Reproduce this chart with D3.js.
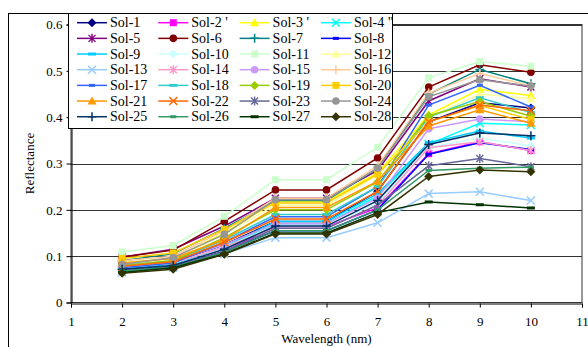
<!DOCTYPE html>
<html>
<head>
<meta charset="utf-8">
<script src="https://cdn.jsdelivr.net/npm/d3@7"></script>
<style>
  body { margin: 0; background: #fff; }
  svg, svg text { font-family: "Liberation Serif", "Times New Roman", Times, "DejaVu Serif", serif; }
</style>
</head>
<body>
<div id="chart"></div>
<script>
// wavelengths (x) and series
const wavelengths = [2, 3, 4, 5, 6, 7, 8, 9, 10];
const seriesNames = ["Sol-1", "Sol-2 '", "Sol-3 '", "Sol-4 \"", "Sol-5", "Sol-6", "Sol-7", "Sol-8",
  "Sol-9", "Sol-10", "Sol-11", "Sol-12", "Sol-13", "Sol-14", "Sol-15", "Sol-16",
  "Sol-17", "Sol-18", "Sol-19", "Sol-20", "Sol-21", "Sol-22", "Sol-23", "Sol-24",
  "Sol-25", "Sol-26", "Sol-27", "Sol-28"];
const reflectance = [
  [0.075, 0.085, 0.125, 0.175, 0.175, 0.240, 0.390, 0.431, 0.420], // Sol-1
  [0.070, 0.078, 0.110, 0.164, 0.164, 0.204, 0.321, 0.347, 0.328], // Sol-2
  [0.085, 0.095, 0.150, 0.218, 0.218, 0.280, 0.405, 0.460, 0.447], // Sol-3
  [0.075, 0.085, 0.120, 0.170, 0.170, 0.230, 0.342, 0.387, 0.383], // Sol-4
  [0.098, 0.115, 0.165, 0.225, 0.225, 0.285, 0.435, 0.483, 0.465], // Sol-5
  [0.098, 0.113, 0.175, 0.243, 0.243, 0.312, 0.465, 0.513, 0.497], // Sol-6
  [0.090, 0.105, 0.160, 0.220, 0.220, 0.290, 0.450, 0.503, 0.472], // Sol-7
  [0.070, 0.078, 0.110, 0.155, 0.155, 0.200, 0.320, 0.345, 0.330], // Sol-8
  [0.073, 0.083, 0.120, 0.175, 0.175, 0.235, 0.345, 0.370, 0.355], // Sol-9
  [0.075, 0.085, 0.120, 0.165, 0.165, 0.215, 0.335, 0.355, 0.338], // Sol-10
  [0.109, 0.123, 0.186, 0.265, 0.265, 0.335, 0.485, 0.520, 0.510], // Sol-11
  [0.083, 0.093, 0.148, 0.210, 0.210, 0.275, 0.400, 0.450, 0.440], // Sol-12
  [0.065, 0.075, 0.105, 0.140, 0.140, 0.172, 0.235, 0.239, 0.220], // Sol-13
  [0.077, 0.085, 0.120, 0.160, 0.160, 0.210, 0.334, 0.347, 0.328], // Sol-14
  [0.078, 0.088, 0.125, 0.170, 0.170, 0.225, 0.375, 0.396, 0.390], // Sol-15
  [0.090, 0.100, 0.155, 0.225, 0.225, 0.295, 0.452, 0.494, 0.468], // Sol-16
  [0.075, 0.085, 0.130, 0.185, 0.185, 0.250, 0.426, 0.469, 0.422], // Sol-17
  [0.080, 0.090, 0.135, 0.190, 0.190, 0.250, 0.400, 0.442, 0.410], // Sol-18
  [0.080, 0.090, 0.140, 0.200, 0.200, 0.260, 0.403, 0.434, 0.402], // Sol-19
  [0.095, 0.107, 0.158, 0.215, 0.215, 0.277, 0.390, 0.425, 0.395], // Sol-20
  [0.085, 0.095, 0.136, 0.205, 0.205, 0.262, 0.381, 0.416, 0.387], // Sol-21
  [0.078, 0.088, 0.130, 0.180, 0.180, 0.240, 0.390, 0.426, 0.414], // Sol-22
  [0.070, 0.078, 0.110, 0.160, 0.160, 0.210, 0.295, 0.311, 0.293], // Sol-23
  [0.082, 0.097, 0.147, 0.222, 0.222, 0.290, 0.444, 0.481, 0.467], // Sol-24
  [0.072, 0.080, 0.115, 0.165, 0.165, 0.220, 0.341, 0.366, 0.360], // Sol-25
  [0.068, 0.076, 0.108, 0.155, 0.155, 0.200, 0.285, 0.290, 0.292], // Sol-26
  [0.065, 0.075, 0.105, 0.150, 0.150, 0.194, 0.217, 0.211, 0.204], // Sol-27
  [0.063, 0.072, 0.104, 0.148, 0.148, 0.190, 0.272, 0.286, 0.282]  // Sol-28
];
const xTicks = [1, 2, 3, 4, 5, 6, 7, 8, 9, 10, 11];
const yTicks = [0, 0.1, 0.2, 0.3, 0.4, 0.5, 0.6];

// excel 2003 style palette and marker cycle
const colors = ["#000080", "#FF00FF", "#FFFF00", "#00FFFF", "#800080", "#800000", "#008080", "#0000FF",
  "#00CCFF", "#CCFFFF", "#CCFFCC", "#FFFF99", "#99CCFF", "#FF99CC", "#CC99FF", "#FFCC99",
  "#3366FF", "#33CCCC", "#99CC00", "#FFCC00", "#FF9900", "#FF6600", "#666699", "#969696",
  "#003366", "#339966", "#003300", "#333300"];
const markerCycle = ["diamond", "square", "triangle", "x", "star", "circle", "plus", "dash", "dash2"];

const FONT = '"Liberation Serif", "Times New Roman", Times, "DejaVu Serif", serif';
const W = 588, H = 347;
const margin = { left: 71, right: 6, top: 24, bottom: 44 };

const svg = d3.select('#chart').append('svg')
  .attr('width', W)
  .attr('height', H)
  .attr('font-family', FONT);

// outer chart border
svg.append('rect')
  .attr('x', 8.5).attr('y', 13.5)
  .attr('width', 700).attr('height', 500)
  .attr('fill', '#fff').attr('stroke', '#000');

const x = d3.scaleLinear().domain([1, 11]).range([margin.left, W - margin.right]);
const y = d3.scaleLinear().domain([0, 0.6]).range([H - margin.bottom - 0.5, margin.top + 0.5]);

// plot border
svg.append('rect')
  .attr('x', x(1)).attr('y', y(0.6))
  .attr('width', x(11) - x(1)).attr('height', y(0) - y(0.6))
  .attr('fill', 'none').attr('stroke', '#333');

// gridlines
svg.append('g')
  .selectAll('line')
  .data(yTicks.slice(1))
  .enter().append('line')
  .attr('x1', x(1)).attr('x2', x(11))
  .attr('y1', d => Math.round(y(d)) + 0.5)
  .attr('y2', d => Math.round(y(d)) + 0.5)
  .attr('stroke', '#333');

// axes
const yAxis = svg.append('g')
  .attr('transform', `translate(${x(1) + 0.5},0)`)
  .call(d3.axisLeft(y).tickValues(yTicks).tickSize(5).tickPadding(4).tickFormat(d3.format('')));
const xAxis = svg.append('g')
  .attr('transform', `translate(0,${Math.round(y(0)) + 0.5})`)
  .call(d3.axisBottom(x).tickValues(xTicks).tickSize(4).tickPadding(9).tickFormat(d3.format('d')));

[yAxis, xAxis].forEach(a => {
  a.attr('font-family', FONT);
  a.select('.domain').attr('stroke', '#000');
  a.selectAll('.tick line').attr('stroke', '#000');
  a.selectAll('.tick text')
    .attr('font-size', '13px')
    .attr('fill', '#000');
});

svg.append('text')
  .attr('transform', `translate(34,${(y(0) + y(0.6)) / 2}) rotate(-90)`)
  .attr('text-anchor', 'middle')
  .attr('font-size', '13px')
  .text('Reflectance');

svg.append('text')
  .attr('x', (x(1) + x(11)) / 2)
  .attr('y', 343)
  .attr('text-anchor', 'middle')
  .attr('font-size', '13px')
  .text('Wavelength (nm)');

function drawMarker(g, type, color, cx, cy) {
  const m = g.append('g').attr('transform', `translate(${cx},${cy})`);
  if (type === 'diamond') {
    m.append('path').attr('d', 'M0,-4.5L4.5,0L0,4.5L-4.5,0Z').attr('fill', color);
  } else if (type === 'square') {
    m.append('rect').attr('x', -3.5).attr('y', -3.5).attr('width', 7).attr('height', 7).attr('fill', color);
  } else if (type === 'triangle') {
    m.append('path').attr('d', 'M0,-4.5L4.5,3.5L-4.5,3.5Z').attr('fill', color);
  } else if (type === 'x') {
    m.append('path').attr('d', 'M-4,-4L4,4M-4,4L4,-4').attr('stroke', color).attr('stroke-width', 1.5);
  } else if (type === 'star') {
    m.append('path').attr('d', 'M-3.5,-3.5L3.5,3.5M-3.5,3.5L3.5,-3.5M0,-4.5V4.5').attr('stroke', color).attr('stroke-width', 1.4);
  } else if (type === 'circle') {
    m.append('circle').attr('r', 3.8).attr('fill', color);
  } else if (type === 'plus') {
    m.append('path').attr('d', 'M-4.5,0H4.5M0,-4.5V4.5').attr('stroke', color).attr('stroke-width', 1.5);
  } else if (type === 'dash') {
    m.append('rect').attr('x', -3).attr('y', -1.5).attr('width', 6).attr('height', 3).attr('fill', color);
  } else {
    m.append('rect').attr('x', -4).attr('y', -1.5).attr('width', 8).attr('height', 3).attr('fill', color);
  }
}

const line = d3.line()
  .x((d, i) => x(wavelengths[i]))
  .y(d => y(d));

const plot = svg.append('g');
reflectance.forEach((vals, s) => {
  const g = plot.append('g');
  g.append('path')
    .attr('d', line(vals))
    .attr('fill', 'none')
    .attr('stroke', colors[s])
    .attr('stroke-width', 1.5);
  vals.forEach((v, i) => drawMarker(g, markerCycle[s % 9], colors[s], x(wavelengths[i]), y(v)));
});

// legend
const legend = svg.append('g');
legend.append('rect')
  .attr('x', 68.5).attr('y', 13.5)
  .attr('width', 324).attr('height', 115)
  .attr('fill', '#fff').attr('stroke', '#000');

const colW = 81.3, rowH = 15.67;
seriesNames.forEach((name, s) => {
  const c = s % 4, r = Math.floor(s / 4);
  const lx = 77 + c * colW, ly = 22.7 + r * rowH;
  legend.append('line')
    .attr('x1', lx).attr('x2', lx + 30)
    .attr('y1', ly).attr('y2', ly)
    .attr('stroke', colors[s]).attr('stroke-width', 1.5);
  drawMarker(legend, markerCycle[s % 9], colors[s], lx + 15, ly);
  legend.append('text')
    .attr('x', lx + 33).attr('y', ly + 4.5)
    .attr('font-size', '14px')
    .text(name);
});
</script>
</body>
</html>
